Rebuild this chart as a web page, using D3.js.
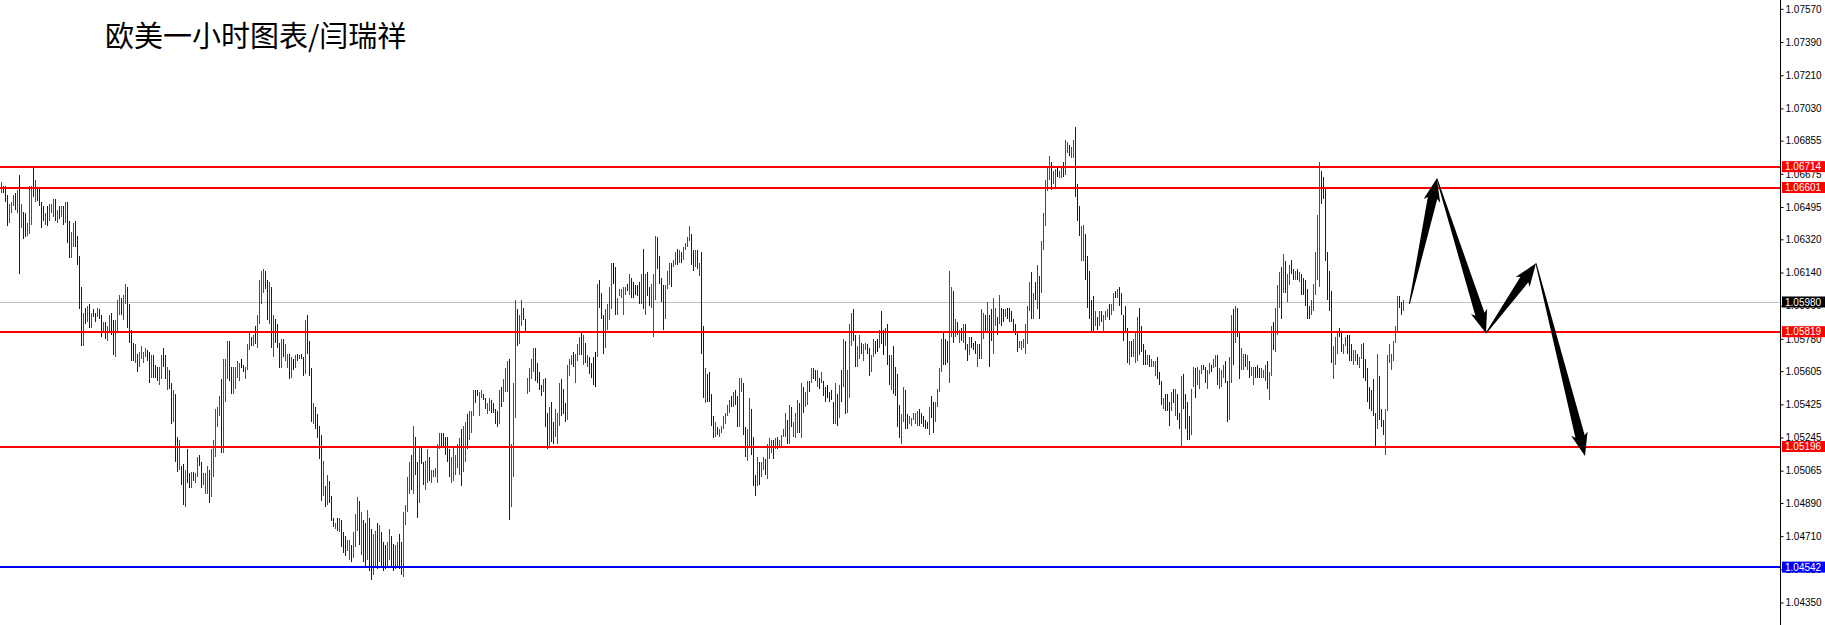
<!DOCTYPE html>
<html><head><meta charset="utf-8">
<script src="https://cdn.jsdelivr.net/npm/d3@7/dist/d3.min.js"></script>
<style>html,body{margin:0;padding:0;background:#fff;overflow:hidden}</style>
</head><body><svg id="c" width="1825" height="625"></svg>
<script>
// ---- DATA (EUR/USD 1H bars: high / low, direction r=up b=down n=doji) ----
const highs = [
1.0663,1.0661,1.0661,1.0656,1.0651,1.0652,1.0656,1.0657,1.0659,1.0667,
1.0651,1.0647,1.0646,1.0641,1.0661,1.0661,1.0671,1.0664,1.0660,1.0660,
1.0652,1.0650,1.0646,1.0650,1.0651,1.0651,1.0654,1.0654,1.0648,1.0650,
1.0650,1.0650,1.0652,1.0652,1.0642,1.0636,1.0641,1.0642,1.0634,1.0623,
1.0606,1.0592,1.0595,1.0596,1.0597,1.0592,1.0594,1.0592,1.0595,1.0594,
1.0591,1.0587,1.0587,1.0585,1.0591,1.0592,1.0588,1.0588,1.0599,1.0602,
1.0600,1.0602,1.0608,1.0606,1.0597,1.0583,1.0576,1.0575,1.0570,1.0571,
1.0574,1.0571,1.0573,1.0572,1.0571,1.0569,1.0569,1.0564,1.0563,1.0563,
1.0569,1.0573,1.0569,1.0563,1.0561,1.0554,1.0550,1.0548,1.0525,1.0523,
1.0509,1.0510,1.0507,1.0518,1.0505,1.0506,1.0506,1.0505,1.0514,1.0515,
1.0511,1.0505,1.0505,1.0509,1.0507,1.0518,1.0523,1.0540,1.0541,1.0547,
1.0556,1.0567,1.0567,1.0577,1.0577,1.0563,1.0563,1.0563,1.0566,1.0565,
1.0567,1.0564,1.0563,1.0575,1.0581,1.0579,1.0580,1.0585,1.0591,1.0610,
1.0615,1.0616,1.0615,1.0610,1.0609,1.0606,1.0591,1.0589,1.0586,1.0576,
1.0578,1.0578,1.0575,1.0570,1.0570,1.0568,1.0567,1.0569,1.0570,1.0569,
1.0570,1.0568,1.0588,1.0591,1.0577,1.0562,1.0543,1.0541,1.0537,1.0531,
1.0526,1.0512,1.0498,1.0504,1.0501,1.0493,1.0481,1.0478,1.0481,1.0481,
1.0480,1.0473,1.0471,1.0469,1.0469,1.0466,1.0473,1.0483,1.0492,1.0490,
1.0484,1.0480,1.0478,1.0485,1.0481,1.0475,1.0472,1.0474,1.0478,1.0477,
1.0473,1.0468,1.0466,1.0468,1.0475,1.0471,1.0467,1.0466,1.0468,1.0472,
1.0468,1.0484,1.0488,1.0503,1.0511,1.0515,1.0531,1.0525,1.0511,1.0519,
1.0520,1.0511,1.0512,1.0518,1.0514,1.0507,1.0507,1.0508,1.0521,1.0527,
1.0527,1.0527,1.0525,1.0525,1.0518,1.0514,1.0519,1.0515,1.0521,1.0524,
1.0529,1.0531,1.0533,1.0537,1.0539,1.0539,1.0550,1.0550,1.0550,1.0549,
1.0550,1.0548,1.0546,1.0543,1.0546,1.0545,1.0543,1.0540,1.0539,1.0550,
1.0552,1.0556,1.0562,1.0566,1.0567,1.0521,1.0554,1.0599,1.0594,1.0591,
1.0599,1.0595,1.0589,1.0557,1.0562,1.0567,1.0573,1.0573,1.0565,1.0560,
1.0553,1.0556,1.0557,1.0538,1.0541,1.0544,1.0533,1.0540,1.0538,1.0554,
1.0556,1.0551,1.0543,1.0564,1.0567,1.0569,1.0571,1.0570,1.0575,1.0579,
1.0582,1.0580,1.0576,1.0569,1.0568,1.0565,1.0568,1.0571,1.0608,1.0610,
1.0603,1.0591,1.0594,1.0597,1.0606,1.0619,1.0619,1.0617,1.0600,1.0605,
1.0605,1.0606,1.0606,1.0608,1.0613,1.0611,1.0609,1.0607,1.0607,1.0609,
1.0613,1.0627,1.0613,1.0614,1.0606,1.0608,1.0613,1.0634,1.0633,1.0623,
1.0611,1.0607,1.0607,1.0615,1.0619,1.0619,1.0621,1.0625,1.0627,1.0626,
1.0625,1.0628,1.0630,1.0633,1.0639,1.0635,1.0626,1.0626,1.0626,1.0619,
1.0625,1.0585,1.0562,1.0559,1.0560,1.0548,1.0536,1.0533,1.0530,1.0529,
1.0531,1.0536,1.0538,1.0542,1.0545,1.0547,1.0549,1.0550,1.0547,1.0557,
1.0557,1.0554,1.0530,1.0529,1.0546,1.0540,1.0525,1.0504,1.0514,1.0511,
1.0511,1.0514,1.0513,1.0521,1.0524,1.0523,1.0523,1.0524,1.0525,1.0523,
1.0526,1.0529,1.0538,1.0534,1.0542,1.0541,1.0533,1.0538,1.0545,1.0543,
1.0554,1.0552,1.0549,1.0555,1.0555,1.0562,1.0562,1.0561,1.0561,1.0557,
1.0560,1.0555,1.0552,1.0553,1.0549,1.0550,1.0544,1.0554,1.0548,1.0553,
1.0561,1.0578,1.0577,1.0561,1.0586,1.0592,1.0594,1.0580,1.0574,1.0580,
1.0576,1.0575,1.0576,1.0575,1.0573,1.0569,1.0578,1.0577,1.0578,1.0583,
1.0593,1.0583,1.0584,1.0586,1.0569,1.0569,1.0574,1.0563,1.0559,1.0542,
1.0537,1.0552,1.0550,1.0537,1.0536,1.0535,1.0538,1.0538,1.0539,1.0540,
1.0538,1.0536,1.0534,1.0533,1.0541,1.0547,1.0544,1.0544,1.0551,1.0562,
1.0578,1.0581,1.0578,1.0577,1.0615,1.0606,1.0604,1.0589,1.0587,1.0583,
1.0584,1.0586,1.0586,1.0575,1.0579,1.0579,1.0576,1.0577,1.0575,1.0575,
1.0594,1.0592,1.0591,1.0598,1.0591,1.0594,1.0600,1.0595,1.0590,1.0602,
1.0595,1.0594,1.0594,1.0595,1.0595,1.0593,1.0589,1.0586,1.0581,1.0577,
1.0577,1.0578,1.0586,1.0596,1.0609,1.0614,1.0603,1.0609,1.0618,1.0612,
1.0631,1.0646,1.0664,1.0671,1.0677,1.0674,1.0669,1.0670,1.0671,1.0669,
1.0672,1.0674,1.0686,1.0685,1.0683,1.0682,1.0686,1.0693,1.0662,1.0650,
1.0639,1.0640,1.0635,1.0623,1.0615,1.0599,1.0601,1.0593,1.0590,1.0593,
1.0593,1.0591,1.0593,1.0594,1.0597,1.0597,1.0603,1.0604,1.0605,1.0606,
1.0603,1.0591,1.0596,1.0584,1.0577,1.0577,1.0578,1.0582,1.0590,1.0595,
1.0585,1.0575,1.0572,1.0569,1.0569,1.0567,1.0566,1.0566,1.0568,1.0560,
1.0555,1.0546,1.0548,1.0548,1.0544,1.0549,1.0551,1.0551,1.0548,1.0538,
1.0558,1.0559,1.0548,1.0544,1.0536,1.0551,1.0563,1.0562,1.0563,1.0561,
1.0564,1.0564,1.0563,1.0561,1.0565,1.0564,1.0567,1.0569,1.0569,1.0562,
1.0561,1.0564,1.0566,1.0555,1.0568,1.0591,1.0594,1.0596,1.0595,1.0582,
1.0573,1.0570,1.0570,1.0569,1.0566,1.0563,1.0563,1.0563,1.0564,1.0562,
1.0562,1.0561,1.0564,1.0566,1.0560,1.0585,1.0587,1.0595,1.0607,1.0614,
1.0617,1.0624,1.0620,1.0613,1.0618,1.0621,1.0616,1.0615,1.0616,1.0614,
1.0613,1.0611,1.0610,1.0605,1.0596,1.0599,1.0608,1.0625,1.0645,1.0674,
1.0669,1.0666,1.0660,1.0625,1.0615,1.0604,1.0574,1.0579,1.0581,1.0584,
1.0581,1.0575,1.0579,1.0580,1.0580,1.0575,1.0572,1.0572,1.0570,1.0568,
1.0575,1.0576,1.0567,1.0562,1.0552,1.0550,1.0556,1.0538,1.0570,1.0558,
1.0540,1.0534,1.0540,1.0569,1.0575,1.0570,1.0577,1.0585,1.0601,1.0601,
1.0598,1.0599];
const lows = [
1.0657,1.0657,1.0652,1.0639,1.0641,1.0646,1.0650,1.0648,1.0646,1.0613,
1.0638,1.0632,1.0633,1.0634,1.0635,1.0640,1.0655,1.0652,1.0653,1.0650,
1.0638,1.0642,1.0640,1.0639,1.0642,1.0646,1.0644,1.0642,1.0641,1.0643,
1.0644,1.0640,1.0641,1.0630,1.0622,1.0622,1.0628,1.0628,1.0618,1.0594,
1.0574,1.0574,1.0586,1.0587,1.0584,1.0584,1.0590,1.0587,1.0590,1.0589,
1.0579,1.0581,1.0578,1.0577,1.0581,1.0580,1.0569,1.0568,1.0581,1.0591,
1.0591,1.0588,1.0597,1.0584,1.0576,1.0566,1.0566,1.0565,1.0560,1.0563,
1.0567,1.0565,1.0568,1.0566,1.0554,1.0557,1.0557,1.0557,1.0555,1.0553,
1.0556,1.0563,1.0556,1.0550,1.0551,1.0532,1.0533,1.0511,1.0506,1.0507,
1.0499,1.0488,1.0487,1.0500,1.0497,1.0497,1.0501,1.0500,1.0503,1.0509,
1.0497,1.0499,1.0494,1.0494,1.0489,1.0492,1.0503,1.0514,1.0530,1.0536,
1.0516,1.0516,1.0544,1.0556,1.0555,1.0548,1.0548,1.0551,1.0557,1.0555,
1.0562,1.0560,1.0556,1.0561,1.0572,1.0574,1.0574,1.0575,1.0573,1.0586,
1.0597,1.0603,1.0605,1.0588,1.0586,1.0573,1.0568,1.0576,1.0573,1.0562,
1.0562,1.0568,1.0566,1.0562,1.0556,1.0557,1.0561,1.0562,1.0566,1.0567,
1.0567,1.0558,1.0559,1.0570,1.0558,1.0533,1.0532,1.0529,1.0524,1.0513,
1.0490,1.0493,1.0487,1.0488,1.0489,1.0479,1.0476,1.0475,1.0474,1.0473,
1.0465,1.0462,1.0460,1.0463,1.0458,1.0457,1.0459,1.0465,1.0474,1.0466,
1.0461,1.0457,1.0455,1.0458,1.0452,1.0447,1.0450,1.0455,1.0453,1.0457,
1.0454,1.0452,1.0453,1.0455,1.0458,1.0454,1.0452,1.0453,1.0455,1.0453,
1.0450,1.0449,1.0477,1.0484,1.0494,1.0496,1.0494,1.0504,1.0481,1.0489,
1.0510,1.0499,1.0496,1.0500,1.0501,1.0500,1.0503,1.0503,1.0500,1.0518,
1.0519,1.0519,1.0515,1.0511,1.0503,1.0500,1.0501,1.0504,1.0508,1.0504,
1.0498,1.0506,1.0511,1.0518,1.0523,1.0527,1.0536,1.0543,1.0547,1.0536,
1.0546,1.0545,1.0540,1.0537,1.0539,1.0538,1.0538,1.0532,1.0530,1.0532,
1.0541,1.0544,1.0549,1.0549,1.0480,1.0487,1.0503,1.0535,1.0574,1.0575,
1.0585,1.0588,1.0581,1.0548,1.0549,1.0556,1.0560,1.0555,1.0554,1.0550,
1.0547,1.0549,1.0530,1.0518,1.0519,1.0522,1.0521,1.0525,1.0521,1.0531,
1.0536,1.0537,1.0533,1.0534,1.0558,1.0564,1.0563,1.0554,1.0566,1.0569,
1.0569,1.0564,1.0565,1.0563,1.0559,1.0557,1.0553,1.0552,1.0568,1.0595,
1.0589,1.0570,1.0573,1.0583,1.0588,1.0594,1.0608,1.0591,1.0591,1.0601,
1.0600,1.0591,1.0602,1.0604,1.0602,1.0600,1.0600,1.0602,1.0601,1.0597,
1.0597,1.0594,1.0591,1.0601,1.0596,1.0595,1.0579,1.0599,1.0616,1.0608,
1.0598,1.0583,1.0589,1.0605,1.0607,1.0606,1.0617,1.0618,1.0618,1.0619,
1.0619,1.0621,1.0626,1.0628,1.0631,1.0618,1.0615,1.0617,1.0616,1.0612,
1.0570,1.0546,1.0543,1.0544,1.0544,1.0531,1.0524,1.0525,1.0526,1.0525,
1.0527,1.0529,1.0532,1.0536,1.0538,1.0541,1.0541,1.0542,1.0530,1.0530,
1.0549,1.0526,1.0514,1.0512,1.0520,1.0515,1.0498,1.0493,1.0498,1.0499,
1.0503,1.0507,1.0504,1.0502,1.0513,1.0516,1.0513,1.0518,1.0518,1.0519,
1.0520,1.0525,1.0525,1.0521,1.0521,1.0530,1.0525,1.0524,1.0527,1.0527,
1.0524,1.0538,1.0541,1.0542,1.0549,1.0554,1.0556,1.0555,1.0552,1.0551,
1.0554,1.0547,1.0544,1.0546,1.0544,1.0545,1.0532,1.0532,1.0531,1.0535,
1.0544,1.0552,1.0537,1.0538,1.0546,1.0574,1.0577,1.0563,1.0563,1.0567,
1.0570,1.0566,1.0572,1.0570,1.0558,1.0560,1.0568,1.0570,1.0571,1.0573,
1.0575,1.0569,1.0574,1.0564,1.0553,1.0550,1.0548,1.0547,1.0530,1.0524,
1.0521,1.0533,1.0529,1.0529,1.0532,1.0531,1.0534,1.0532,1.0531,1.0531,
1.0532,1.0530,1.0529,1.0529,1.0526,1.0535,1.0527,1.0533,1.0541,1.0549,
1.0560,1.0564,1.0564,1.0565,1.0554,1.0579,1.0576,1.0579,1.0580,1.0576,
1.0577,1.0576,1.0572,1.0566,1.0569,1.0573,1.0572,1.0570,1.0563,1.0567,
1.0567,1.0578,1.0582,1.0582,1.0563,1.0577,1.0570,1.0585,1.0580,1.0586,
1.0585,1.0587,1.0590,1.0589,1.0587,1.0587,1.0582,1.0580,1.0571,1.0573,
1.0572,1.0573,1.0570,1.0575,1.0593,1.0589,1.0589,1.0599,1.0594,1.0589,
1.0603,1.0626,1.0639,1.0658,1.0664,1.0659,1.0662,1.0660,1.0666,1.0665,
1.0665,1.0666,1.0667,1.0679,1.0677,1.0676,1.0676,1.0655,1.0642,1.0634,
1.0620,1.0620,1.0610,1.0595,1.0589,1.0582,1.0582,1.0585,1.0583,1.0585,
1.0587,1.0582,1.0588,1.0590,1.0588,1.0591,1.0593,1.0600,1.0600,1.0596,
1.0591,1.0577,1.0582,1.0565,1.0564,1.0568,1.0568,1.0565,1.0566,1.0569,
1.0571,1.0564,1.0564,1.0564,1.0563,1.0563,1.0563,1.0558,1.0556,1.0553,
1.0542,1.0540,1.0539,1.0539,1.0531,1.0539,1.0543,1.0536,1.0534,1.0529,
1.0520,1.0540,1.0529,1.0523,1.0523,1.0526,1.0552,1.0546,1.0553,1.0551,
1.0559,1.0561,1.0554,1.0551,1.0559,1.0560,1.0562,1.0563,1.0553,1.0551,
1.0552,1.0557,1.0554,1.0533,1.0534,1.0554,1.0564,1.0576,1.0579,1.0556,
1.0561,1.0561,1.0563,1.0561,1.0557,1.0558,1.0553,1.0557,1.0557,1.0557,
1.0557,1.0557,1.0555,1.0551,1.0545,1.0558,1.0572,1.0571,1.0580,1.0595,
1.0589,1.0603,1.0603,1.0598,1.0607,1.0613,1.0610,1.0610,1.0610,1.0609,
1.0602,1.0602,1.0596,1.0589,1.0589,1.0591,1.0593,1.0602,1.0610,1.0606,
1.0651,1.0654,1.0620,1.0599,1.0593,1.0565,1.0556,1.0564,1.0570,1.0579,
1.0571,1.0570,1.0574,1.0570,1.0566,1.0566,1.0564,1.0566,1.0564,1.0562,
1.0567,1.0557,1.0555,1.0544,1.0540,1.0539,1.0536,1.0519,1.0529,1.0534,
1.0530,1.0526,1.0515,1.0539,1.0565,1.0561,1.0566,1.0576,1.0582,1.0595,
1.0591,1.0593];
const barDir =
"rbbbrrrbrb"+"rbbrrrbrbb"+"bbrbrrrbrb"+"rbrbbrrbbb"+"brbrbrbbrb"+"brbrrbbrrr"+
"brrbbbbrbr"+"rrrbbrbbbr"+"rbbrbbrbbr"+"bbrbbrbrrb"+"brrrbrrrrr"+"brrrbbrrrr"+
"nbrrrbrbrr"+"rrbbrbrbbb"+"rbrrbrnrbr"+"bbrbbbrbbb"+"brbrbbbrbr"+"bbbrrbrrrb"+
"rbbrbbrrbr"+"bbbrrbbrrb"+"brrrrbrbbr"+"bbrrbrrrrr"+"bbbbbrrrrr"+"brrbrrrbbr"+
"rbbrrbbbbr"+"brrrbrrrbr"+"rbbrrrrbbb"+"brbbrbbrrr"+"bbbrrrbrrr"+"brbrbbbnrb"+
"bbrrrrnbrr"+"rrrbrbbbbb"+"rbrbbrrrbb"+"bbrrrbrrbr"+"brrrrbbrbr"+"bbrbbbbrbr"+
"rrrrrbrbbr"+"rbbrrbbbrb"+"rrbrrrbrbr"+"rrrbrbrrrb"+"rbrrbrbbrb"+"rbbnbbbrbr"+
"brbrrrbbrr"+"brrbbrrbnr"+"bnrbbrbbbb"+"rrbbrrrrrb"+"bbbbrbbrrr"+"rbbbrrbrbr"+
"brbbrbbbrb"+"rrbrbbrrbr"+"bbrbbbbbbr"+"rrrrrbrbrb"+"rrrrrbrrnr"+"rbrrbrrbbb"+
"rrbbbbbrbr"+"brrrbrrbrb"+"bbbbrbrrrb"+"bbbrbrrrbb"+"brbbbrbrbb"+"rbbbbrrbrr"+
"rbbrrbrrbr"+"rrbbrrbrbb"+"rrbrbrrbbb"+"rrrbrrbrrr"+"brbrrbbrbr"+"bbbbbrrrrr"+
"bbbbbbrrrb"+"brrbbbrrbr"+"rbbbbbbbrb"+"bbrrrrrrrb"+"br";

const tickValues = [1.07570,1.07390,1.07210,1.07030,1.06855,1.06675,1.06495,1.06320,1.06140,
  1.05960,1.05780,1.05605,1.05425,1.05245,1.05065,1.04890,1.04710,1.04530,1.04350];
const resistLevels = [1.06714, 1.06601, 1.05819, 1.05196];
const supportLevel = 1.04542;
const bidPrice = 1.05980;
const forecastIdx = [704.2, 717.9, 742.5, 767.5, 792];
const forecastPrice = [1.0597, 1.0665, 1.0581, 1.0619, 1.05145];
const titleText = "欧美一小时图表/闫瑞祥";

// ---- DRAW ----
const W = 1825, H = 625, axisX = 1780;
const svg = d3.select("#c");
const y = d3.scaleLinear().domain([1.04228, 1.07618]).range([H, 0]);
const x = d3.scaleLinear().domain([0, highs.length - 1]).range([1, 1 + 2 * (highs.length - 1)]);
const colorOf = {r: "#ff0000", b: "#0000ff", n: "#000000"};

svg.append("rect").attr("width", W).attr("height", H).attr("fill", "#fff");

// bid line (background)
svg.append("line").attr("x1", 0).attr("x2", axisX).attr("y1", Math.round(y(bidPrice)) + 0.5)
  .attr("y2", Math.round(y(bidPrice)) + 0.5).attr("stroke", "#c0c0c0").attr("stroke-width", 1);

// bars
const bars = highs.map((h, i) => ({i, h, l: lows[i], d: barDir[i]}));
svg.append("g").attr("shape-rendering", "crispEdges").selectAll("rect").data(bars).join("rect")
  .attr("x", d => x(d.i)).attr("width", 1)
  .attr("y", d => Math.round(y(d.h)))
  .attr("height", d => Math.max(1, Math.round(y(d.l)) - Math.round(y(d.h))))
  .attr("fill", d => colorOf[d.d]);

// horizontal levels
const lv = svg.append("g").attr("shape-rendering", "crispEdges");
resistLevels.forEach(v => {
  lv.append("rect").attr("x", 0).attr("width", axisX).attr("y", Math.round(y(v)) - 1).attr("height", 2).attr("fill", "#ff0000");
});
lv.append("rect").attr("x", 0).attr("width", axisX).attr("y", Math.round(y(supportLevel)) - 1).attr("height", 2).attr("fill", "#0000ff");

// forecast arrows
function arrowPoly(x0, y0, x1, y1) {
  const dx = x1 - x0, dy = y1 - y0, L = Math.hypot(dx, dy);
  const ux = dx / L, uy = dy / L, nx = -uy, ny = ux;
  const hl = 20, hw = 8.5, sw = 4.8, tw = 0.5;
  const bx = x1 - ux * hl, by = y1 - uy * hl;
  const hx = x1 - ux * (hl + 3), hy = y1 - uy * (hl + 3);
  return [[x0 + nx * tw, y0 + ny * tw], [bx + nx * sw, by + ny * sw], [hx + nx * hw, hy + ny * hw], [x1, y1],
          [hx - nx * hw, hy - ny * hw], [bx - nx * sw, by - ny * sw], [x0 - nx * tw, y0 - ny * tw]];
}
const ag = svg.append("g");
for (let k = 0; k < forecastIdx.length - 1; k++) {
  const p = arrowPoly(x(forecastIdx[k]), y(forecastPrice[k]), x(forecastIdx[k + 1]), y(forecastPrice[k + 1]));
  ag.append("polygon").attr("points", p.map(q => q.join(",")).join(" ")).attr("fill", "#000");
}

// right axis
svg.append("rect").attr("x", axisX + 1).attr("width", W - axisX - 1).attr("height", H).attr("fill", "#fff");
const axis = d3.axisRight(y).tickValues(tickValues).tickSize(3).tickSizeOuter(0).tickPadding(2)
  .tickFormat(d3.format(".5f"));
const ax = svg.append("g").attr("transform", `translate(${axisX + 0.5},0)`).call(axis);
ax.select(".domain").attr("stroke", "#000").attr("d", `M0,0V${H}`);
ax.selectAll(".tick line").attr("stroke", "#000");
ax.selectAll(".tick text").attr("font-family", "'Liberation Sans', Arial, sans-serif").attr("font-size", 10).attr("fill", "#000");

// price labels
const tags = [
  ...resistLevels.map(v => ({v, bg: "#ff0000"})),
  {v: bidPrice, bg: "#000000"},
  {v: supportLevel, bg: "#0000ff"}
];
const tg = svg.append("g");
tags.forEach(t => {
  const yc = y(t.v);
  tg.append("rect").attr("x", axisX + 2).attr("y", yc - 5.5).attr("width", W - axisX - 2).attr("height", 11).attr("fill", t.bg);
  tg.append("text").attr("x", axisX + 5).attr("y", yc).attr("dy", "0.36em").attr("fill", "#fff")
    .attr("font-family", "'Liberation Sans', Arial, sans-serif").attr("font-size", 10).text(d3.format(".5f")(t.v));
});

// title
svg.append("text").attr("x", 105).attr("y", 47).attr("font-family", "'Noto Sans CJK SC', sans-serif")
  .attr("font-size", 29).attr("fill", "#000").text(titleText);
</script></body></html>
